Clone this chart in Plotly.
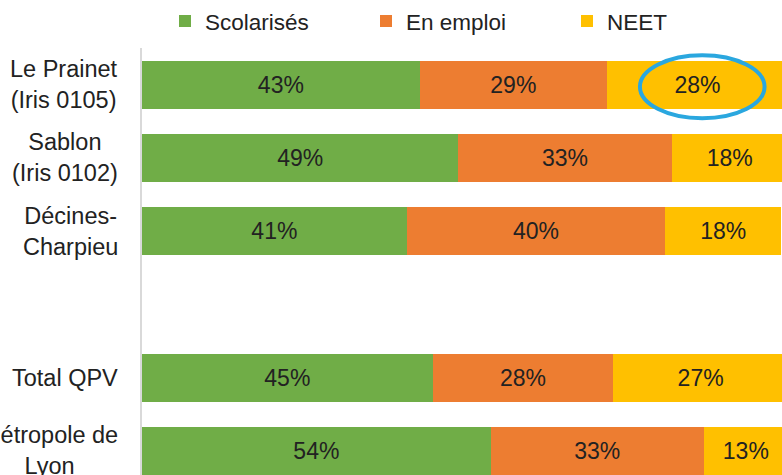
import plotly.graph_objects as go

# ---- data ----
categories = ["Le Prainet<br>(Iris 0105)", "Sablon<br>(Iris 0102)", "Décines-<br>Charpieu",
              " ", "Total QPV", "Métropole de<br>Lyon"]
scolarises = [43, 49, 41, None, 45, 54]
en_emploi = [29, 33, 40, None, 28, 33]
neet = [28, 18, 18, None, 27, 13]
series_names = ["Scolarisés", "En emploi", "NEET"]
colors = ["#70AD47", "#ED7D31", "#FFC000"]

FONT = "Liberation Sans, Arial, sans-serif"
TXT = "#222222"

fig = go.Figure()
for name, vals, col in zip(series_names, [scolarises, en_emploi, neet], colors):
    fig.add_trace(go.Bar(
        y=categories, x=vals, name=name, orientation="h",
        marker=dict(color=col, line=dict(width=0)),
        text=[f"{v}%" if v is not None else "" for v in vals],
        textposition="inside", insidetextanchor="middle", constraintext="none",
        textangle=0,
        textfont=dict(family=FONT, size=23, color=TXT),
        hoverinfo="skip",
    ))

# category labels (block right-aligned, lines centred)
for c in categories:
    if c.strip():
        fig.add_annotation(xref="paper", yref="y", x=0, y=c, text=c,
                           xanchor="right", yanchor="middle", align="center",
                           xshift=-22, showarrow=False,
                           font=dict(family=FONT, size=23.5, color=TXT))

# highlight ellipse around Le Prainet NEET value
fig.add_shape(type="circle", xref="x", yref="y",
              x0=77.1, x1=96.4, y0=-0.40, y1=0.46,
              line=dict(color="#2AA7DF", width=4), fillcolor="rgba(0,0,0,0)")

fig.update_layout(
    width=782, height=475,
    margin=dict(l=142, r=0, t=48, b=0),
    barmode="stack", bargap=0.344,
    plot_bgcolor="white", paper_bgcolor="white",
    font=dict(family=FONT, size=22, color=TXT),
    showlegend=True,
    legend=dict(orientation="h", xref="container", yref="container",
                traceorder="normal",
                x=0.211, y=0.955, xanchor="left", yanchor="middle",
                font=dict(family=FONT, size=22.5, color=TXT),
                entrywidth=156, itemclick=False),
    xaxis=dict(range=[0, 99.1], visible=False, showgrid=False, zeroline=False),
    yaxis=dict(type="category", categoryorder="array", categoryarray=categories,
               range=[5.33, -0.5], showticklabels=False, ticks="",
               showgrid=False, zeroline=False,
               showline=True, linecolor="#D9D9D9", linewidth=2),
)

fig.write_html("out.html", config={"displayModeBar": False},
               post_script="document.body.style.margin='0';document.body.style.overflow='hidden';")
